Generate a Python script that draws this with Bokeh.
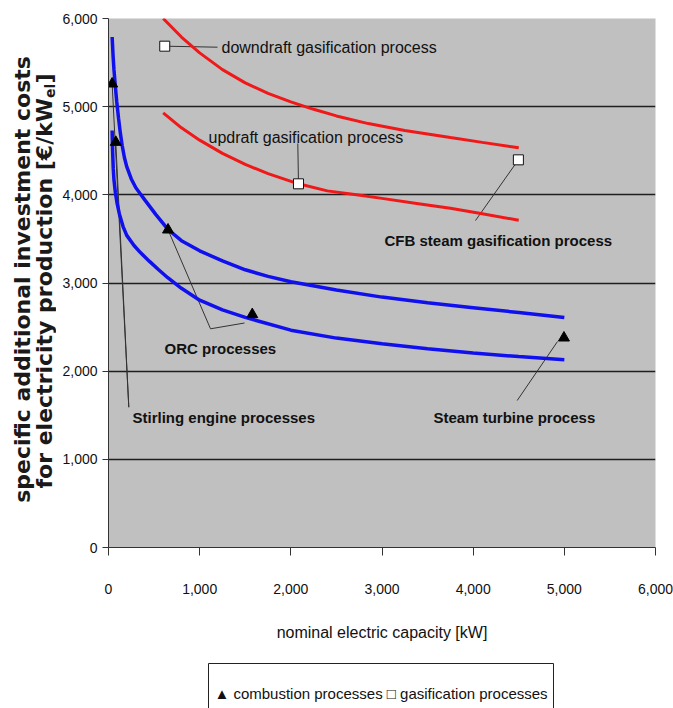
from math import pi
from bokeh.plotting import figure
from bokeh.layouts import row, column
from bokeh.models import Range1d, FixedTicker, NumeralTickFormatter, Label
from bokeh.embed import file_html
from bokeh.resources import INLINE

# ---------------- data ----------------
ticks = [0, 1000, 2000, 3000, 4000, 5000, 6000]

# combustion processes (blue curves)
orc_upper_x = [40, 50, 60, 75, 90, 110, 130, 150, 175, 200, 250, 300, 350, 400, 520, 650, 800,
               1000, 1250, 1500, 1750, 2000, 2500, 3000, 3500, 4000, 4500, 5000]
orc_upper_y = [5790, 5580, 5420, 5230, 5060, 4870, 4700, 4560, 4420, 4320, 4180, 4080, 4010,
               3940, 3775, 3610, 3480, 3365, 3250, 3150, 3075, 3015, 2920, 2840, 2775, 2720,
               2665, 2608]

orc_lower_x = [40, 45, 52, 60, 75, 95, 120, 160, 200, 280, 350, 450, 550, 650, 800, 1000, 1250,
               1500, 2000, 2500, 3000, 3500, 4000, 4500, 5000]
orc_lower_y = [4730, 4500, 4300, 4170, 4030, 3900, 3780, 3640, 3540, 3425, 3345, 3245, 3150,
               3060, 2940, 2805, 2695, 2610, 2465, 2375, 2310, 2255, 2205, 2165, 2130]

# gasification processes (red curves)
down_x = [600, 800, 1000, 1250, 1500, 1750, 2000, 2250, 2500, 2850, 3250, 3750, 4100, 4500]
down_y = [6000, 5790, 5610, 5420, 5270, 5150, 5055, 4970, 4895, 4808, 4730, 4650, 4595, 4533]

up_x = [600, 800, 1000, 1250, 1500, 1750, 2084, 2400, 2700, 3000, 3400, 3750, 4100, 4500]
up_y = [4930, 4760, 4620, 4470, 4345, 4240, 4125, 4045, 4005, 3960, 3900, 3848, 3785, 3712]

# markers
tri_x = [40, 80, 653, 1577, 4996]
tri_y = [5259, 4597, 3603, 2643, 2378]
sq_x = [617, 2084, 4496]
sq_y = [5686, 4125, 4397]

# ---------------- layout constants (page pixels) ----------------
FONT = "Liberation Sans"
TOTAL_W, TOTAL_H = 673, 708
LEFT_W = 56
MAIN_W, MAIN_H = TOTAL_W - LEFT_W, 655
BOT_H = TOTAL_H - MAIN_H
FRAME_L, FRAME_R, FRAME_T, FRAME_B = 108, 655, 18, 547   # plot area in page pixels

# ---------------- main figure ----------------
p = figure(width=MAIN_W, height=MAIN_H, output_backend="svg", toolbar_location=None,
           x_range=Range1d(0, 6000), y_range=Range1d(0, 6000),
           min_border_left=FRAME_L - LEFT_W, min_border_right=TOTAL_W - FRAME_R,
           min_border_top=FRAME_T, min_border_bottom=MAIN_H - FRAME_B)
p.background_fill_color = "#c0c0c0"
p.border_fill_color = "white"
p.outline_line_color = None
p.xgrid.visible = False
p.ygrid.ticker = FixedTicker(ticks=ticks)
p.ygrid.grid_line_color = "#1e1e1e"
p.ygrid.grid_line_width = 1.5

for ax in (p.xaxis[0], p.yaxis[0]):
    ax.ticker = FixedTicker(ticks=ticks)
    ax.formatter = NumeralTickFormatter(format="0,0")
    ax.major_tick_in = 0
    ax.minor_tick_line_color = None
    ax.axis_line_color = "#333333"
    ax.major_tick_line_color = "#333333"
    ax.major_label_text_font = FONT
    ax.major_label_text_font_size = "14px"
    ax.major_label_text_color = "#111111"
p.xaxis.major_tick_out = 8
p.xaxis.major_label_standoff = 28
p.yaxis.major_tick_out = 6
p.yaxis.major_label_standoff = 5
p.xaxis.axis_label = "nominal electric capacity [kW]"
p.xaxis.axis_label_text_font = FONT
p.xaxis.axis_label_text_font_size = "16px"
p.xaxis.axis_label_text_font_style = "normal"
p.xaxis.axis_label_text_color = "#111111"
p.xaxis.axis_label_standoff = 27

FW = FRAME_R - FRAME_L
FH = FRAME_B - FRAME_T

def px2x(px):
    return (px - FRAME_L) / FW * 6000

def px2y(py):
    return (FRAME_B - py) / FH * 6000

# leader lines (marker -> label)
lead_x0 = [sq_x[0], px2x(297.3), sq_x[2], tri_x[2], px2x(210), tri_x[0], tri_x[1], px2x(557)]
lead_y0 = [sq_y[0], px2y(143), sq_y[2], tri_y[2], px2y(328.3), tri_y[0], tri_y[1], px2y(341)]
lead_x1 = [px2x(217), sq_x[1], px2x(475), px2x(210), px2x(244), px2x(128.3), px2x(128.3), px2x(516.7)]
lead_y1 = [px2y(46.7), sq_y[1], px2y(220), px2y(328.3), px2y(322.5), px2y(406.7), px2y(406.7), px2y(400)]
p.segment(lead_x0, lead_y0, lead_x1, lead_y1, line_color="#333333", line_width=1)

# curves
p.line(orc_upper_x, orc_upper_y, line_color="#1010ee", line_width=3.5)
p.line(orc_lower_x, orc_lower_y, line_color="#1010ee", line_width=3.5)
p.line(down_x, down_y, line_color="#f01818", line_width=3)
p.line(up_x, up_y, line_color="#f01818", line_width=3)

# markers
p.scatter(tri_x, tri_y, marker="triangle", size=11, fill_color="black", line_color="black")
p.scatter(sq_x, sq_y, marker="square", size=10, fill_color="white", line_color="#111111", line_width=1)

def lab(px, py, text, size, bold=False, align="left"):
    p.add_layout(Label(x=px2x(px), y=px2y(py), text=text, text_font=FONT,
                       text_font_size=size, text_font_style="bold" if bold else "normal",
                       text_align=align, text_baseline="middle", text_color="#111111"))

lab(221, 46.7, "downdraft gasification process", "16px")
lab(208, 136.7, "updraft gasification process", "16px")
lab(384, 240, "CFB steam gasification process", "15px", bold=True)
lab(164, 348, "ORC processes", "15px", bold=True)
lab(132, 416.7, "Stirling engine processes", "15px", bold=True)
lab(433, 416.7, "Steam turbine process", "15px", bold=True)

# ---------------- helper for plain drawing strips ----------------
def blank(w, h, y0, y1):
    f = figure(width=w, height=h, output_backend="svg", toolbar_location=None,
               x_range=Range1d(0, w), y_range=Range1d(y0, y1),
               x_axis_type=None, y_axis_type=None, title=None,
               min_border=0, min_border_left=0, min_border_right=0,
               min_border_top=0, min_border_bottom=0)
    f.grid.visible = False
    f.outline_line_color = None
    f.background_fill_color = "white"
    f.border_fill_color = "white"
    return f

# left strip: its frame is aligned with the main plot frame (page y 18..547)
left = blank(LEFT_W, MAIN_H, 0, FRAME_B - FRAME_T)
YF = "DejaVu Sans"

def ylab(px, py, text, size, align):
    left.add_layout(Label(x=px, y=FRAME_B - py, text=text, text_font=YF, text_font_size=size,
                          text_font_style="bold", angle=pi / 2, text_align=align,
                          text_baseline="middle", text_color="#1a1a1a"))

ylab(22, 279, "specific additional investment costs", "22px", "center")
ylab(44, 488, "for electricity production [\u20ac/kW", "22px", "left")
ylab(49, 97.5, "el", "14px", "left")
ylab(44, 83, "]", "22px", "left")

# bottom strip: legend box (page y 655..708)
bot = blank(TOTAL_W, BOT_H, 0, BOT_H)
bot.quad(left=[208], right=[553], top=[BOT_H - (663 - MAIN_H)], bottom=[-20],
         fill_color="white", line_color="#222222", line_width=1)
bot.add_layout(Label(x=380.5, y=BOT_H - (693 - MAIN_H),
                     text="\u25b2 combustion processes \u25a1 gasification processes",
                     text_font=FONT, text_font_size="15px", text_align="center",
                     text_baseline="middle", text_color="#111111"))

layout = column(row(left, p), bot)
open("out.html", "w").write(file_html(layout, INLINE))
